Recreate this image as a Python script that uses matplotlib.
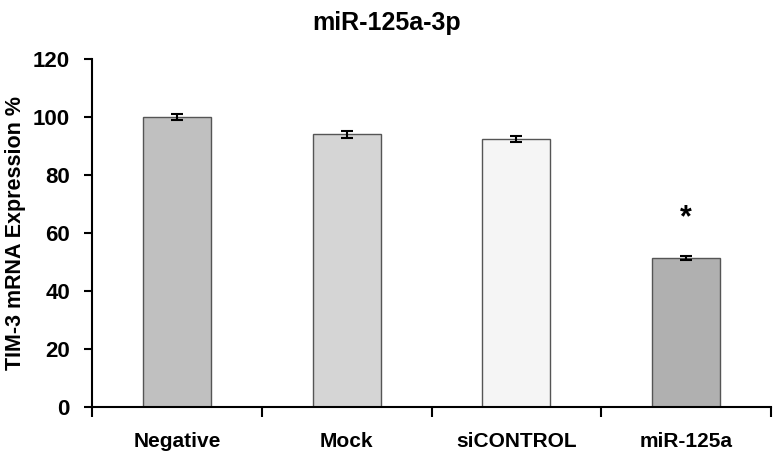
import matplotlib
matplotlib.use("Agg")
import matplotlib.pyplot as plt
import numpy as np

categories = ["Negative", "Mock", "siCONTROL", "miR-125a"]
values = [100, 94, 92.3, 51.5]
errors = [1.0, 1.3, 1.0, 0.7]
colors = ["#c0c0c0", "#d5d5d5", "#f5f5f5", "#b0b0b0"]
star_value = 65

plt.rcParams["font.family"] = ["Liberation Sans", "DejaVu Sans"]
plt.rcParams["font.weight"] = "bold"

fig = plt.figure(figsize=(7.74, 4.54), dpi=100)
ax = fig.add_axes([0.119, 0.1035, 0.877, 0.7665])

x = np.arange(len(categories))
ax.bar(x, values, width=0.4, color=colors, edgecolor="#555555", linewidth=1.0, zorder=2)
ax.errorbar(x, values, yerr=errors, fmt="none", ecolor="black",
            elinewidth=1.5, capsize=4, capthick=1.5, zorder=3)
ax.text(x[3], star_value, "*", ha="center", va="center", fontsize=22, fontweight="bold")

ax.set_xlim(-0.5, len(categories) - 0.5)
ax.set_ylim(0, 120)
ax.set_yticks(range(0, 121, 20))
ax.set_xticks(np.arange(-0.5, len(categories), 1.0))
ax.set_xticklabels([])
ax.set_xticks(x, minor=True)
ax.set_xticklabels(categories, minor=True)
ax.tick_params(axis="x", which="major", direction="out", length=7, width=1.5)
ax.tick_params(axis="x", which="minor", length=0, pad=18, labelsize=15)
ax.tick_params(axis="y", direction="out", length=6, width=1.5, labelsize=16, pad=10)

for s in ["top", "right"]:
    ax.spines[s].set_visible(False)
for s in ["left", "bottom"]:
    ax.spines[s].set_linewidth(1.5)

ax.set_ylabel("TIM-3 mRNA Expression %", fontsize=15.5, fontweight="bold", labelpad=5)
fig.suptitle("miR-125a-3p", fontsize=18, fontweight="bold", y=0.975)

fig.savefig("out.png", dpi=100)
